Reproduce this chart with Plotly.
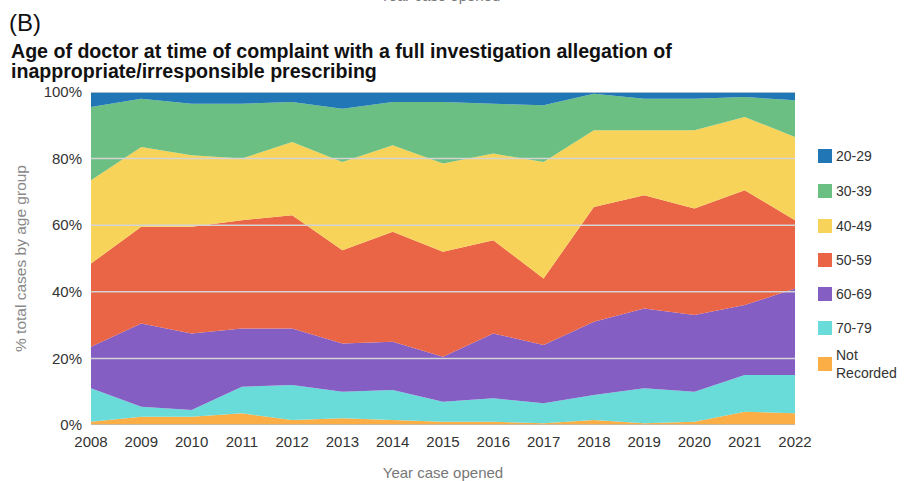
import plotly.graph_objects as go

years = list(range(2008, 2023))

# share of cases (%) by age group, bottom of stack first
not_recorded = [1, 2.5, 2.5, 3.5, 1.5, 2, 1.5, 1, 1, 0.5, 1.5, 0.5, 1, 4, 3.5]
age_70_79 = [10, 3, 2, 8, 10.5, 8, 9, 6, 7, 6, 7.5, 10.5, 9, 11, 11.5]
age_60_69 = [12.5, 25, 23, 17.5, 17, 14.5, 14.5, 13.5, 19.5, 17.5, 22, 24, 23, 21, 26]
age_50_59 = [25, 29, 32, 32.5, 34, 28, 33, 31.5, 28, 20, 34.5, 34, 32, 34.5, 20.5]
age_40_49 = [25, 24, 21.5, 18.5, 22, 26.5, 26, 26.5, 26, 35, 23, 19.5, 23.5, 22, 25]
age_30_39 = [22, 14.5, 15.5, 16.5, 12, 16, 13, 18.5, 15, 17, 11, 9.5, 9.5, 6, 11]
age_20_29 = [4.5, 2, 3.5, 3.5, 3, 5, 3, 3, 3.5, 4, 0.5, 2, 2, 1.5, 2.5]

labels = ["Not<br>Recorded", "70-79", "60-69", "50-59", "40-49", "30-39", "20-29"]
values = [not_recorded, age_70_79, age_60_69, age_50_59, age_40_49, age_30_39, age_20_29]
colors = ["#fbae46", "#69dbd9", "#855ec4", "#ea6545", "#f8d35a", "#6bbf82", "#2177b6"]

# plot area in pixels: x 91..795, y 92..425
def px(x):
    return (x - 91) / 704.0

def py(y):
    return (425 - y) / 333.0

FONT = "Liberation Sans, Arial, sans-serif"

fig = go.Figure()

for name, vals, color in zip(labels, values, colors):
    fig.add_trace(go.Scatter(
        x=years,
        y=vals,
        name=name,
        mode="lines",
        stackgroup="age",
        line=dict(width=0, color=color),
        fillcolor=color,
        showlegend=False,
    ))

# gridlines sit on top of the areas in the original
for v in [20, 40, 60, 80, 100]:
    fig.add_shape(type="line", xref="x", yref="y", x0=2008, x1=2022, y0=v, y1=v,
                  line=dict(color="#d4d4d4", width=1.5), layer="above")
fig.add_shape(type="line", xref="x", yref="y", x0=2008, x1=2022, y0=0, y1=0,
              line=dict(color="#bbbbbb", width=1.5), layer="above")

# legend drawn by hand: small squares + labels, top item first
legend_y = [156, 191, 226, 260, 294, 328, 364]
for (name, color), ly in zip(list(zip(labels, colors))[::-1], legend_y):
    fig.add_shape(type="rect", xref="paper", yref="paper",
                  x0=px(818), x1=px(832), y0=py(ly + 7), y1=py(ly - 7),
                  fillcolor=color, line=dict(width=0))
    fig.add_annotation(xref="paper", yref="paper", x=px(834), y=py(ly),
                       xanchor="left", yanchor="middle", align="left",
                       text=name, showarrow=False,
                       font=dict(family=FONT, size=14, color="#333"))

fig.add_annotation(
    xref="paper", yref="paper", x=px(7), y=py(22), xanchor="left", yanchor="middle",
    text="(B)", showarrow=False, font=dict(family=FONT, size=24, color="#111"),
)
fig.add_annotation(
    xref="paper", yref="paper", x=px(9), y=py(51), xanchor="left", yanchor="middle",
    text="<b>Age of doctor at time of complaint with a full investigation allegation of</b>",
    showarrow=False, font=dict(family=FONT, size=19.6, color="#111"),
)
fig.add_annotation(
    xref="paper", yref="paper", x=px(9), y=py(71), xanchor="left", yanchor="middle",
    text="<b>inappropriate/irresponsible prescribing</b>",
    showarrow=False, font=dict(family=FONT, size=19.6, color="#111"),
)
# remnant of the panel above, cut by the top edge
fig.add_annotation(
    xref="paper", yref="paper", x=px(440), y=py(-5), xanchor="center", yanchor="middle",
    text="Year case opened", showarrow=False, font=dict(family=FONT, size=15, color="#777"),
)

fig.update_layout(
    width=905,
    height=481,
    margin=dict(l=91, r=110, t=92, b=56),
    paper_bgcolor="white",
    plot_bgcolor="white",
    font=dict(family=FONT, size=15, color="#333"),
    showlegend=False,
    xaxis=dict(
        range=[2008, 2022],
        tickvals=years,
        ticktext=[str(y) for y in years],
        showgrid=False,
        zeroline=False,
        showline=False,
        ticks="",
        automargin=False,
        ticklabelstandoff=6,
        title=dict(text="Year case opened", font=dict(size=15, color="#777"), standoff=20),
    ),
    yaxis=dict(
        range=[0, 100],
        tickvals=[0, 20, 40, 60, 80, 100],
        ticktext=["0%", "20%", "40%", "60%", "80%", "100%"],
        showgrid=False,
        zeroline=False,
        ticks="",
        automargin=False,
        ticklabelstandoff=8,
        title=dict(text="% total cases by age group", font=dict(size=15.5, color="#888"),
                   standoff=13),
    ),
)

fig.write_html("out.html", config={"displayModeBar": False},
               post_script="document.body.style.margin='0';")
